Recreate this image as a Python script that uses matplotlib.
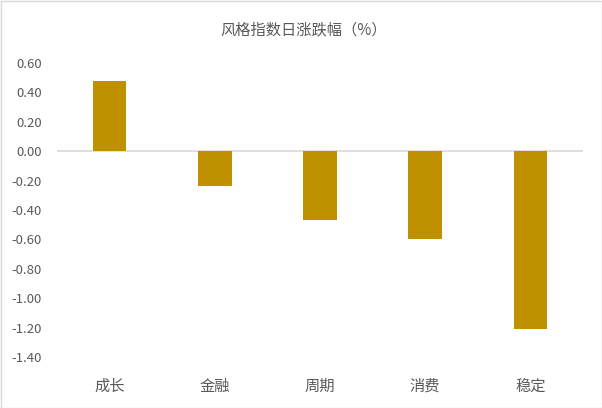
import matplotlib
matplotlib.use("Agg")
import matplotlib.pyplot as plt
from matplotlib.patches import Rectangle

categories = ["成长", "金融", "周期", "消费", "稳定"]
values = [0.48, -0.24, -0.47, -0.60, -1.21]
yticks = [0.6, 0.4, 0.2, 0.0, -0.2, -0.4, -0.6, -0.8, -1.0, -1.2, -1.4]
title = "风格指数日涨跌幅（%）"

plt.rcParams['font.family'] = ['Noto Sans CJK SC', 'DejaVu Sans']
text_color = "#595959"

fig = plt.figure(figsize=(6.02, 4.08), dpi=100)
ax = fig.add_axes([57/602, 1-357/408, 526/602, (357-63)/408])

x = list(range(len(categories)))
ax.bar(x, values, width=0.32, color="#BF9000", zorder=3)
ax.set_xlim(-0.5, len(categories) - 0.5)
ax.set_ylim(-1.4, 0.6)
ax.set_yticks(yticks)
ax.set_yticklabels([f"{v:.2f}" for v in yticks])
ax.set_xticks(x)
ax.set_xticklabels(categories)
ax.axhline(0, color="#d9d9d9", lw=1.2, zorder=2)
for s in ax.spines.values():
    s.set_visible(False)
ax.tick_params(axis="y", length=0, labelsize=9.5, labelcolor=text_color, pad=11)
ax.tick_params(axis="x", length=0, labelsize=11, labelcolor=text_color, pad=15)

fig.text(0.505, 1-30/408, title, ha="center", va="center", fontsize=11, color=text_color)
fig.patches.append(Rectangle((0.5/602, 0.5/408), 1-1/602, 1-1/408, transform=fig.transFigure,
                             fill=False, edgecolor="#d9d9d9", lw=1))
fig.savefig("out.png", dpi=100)
